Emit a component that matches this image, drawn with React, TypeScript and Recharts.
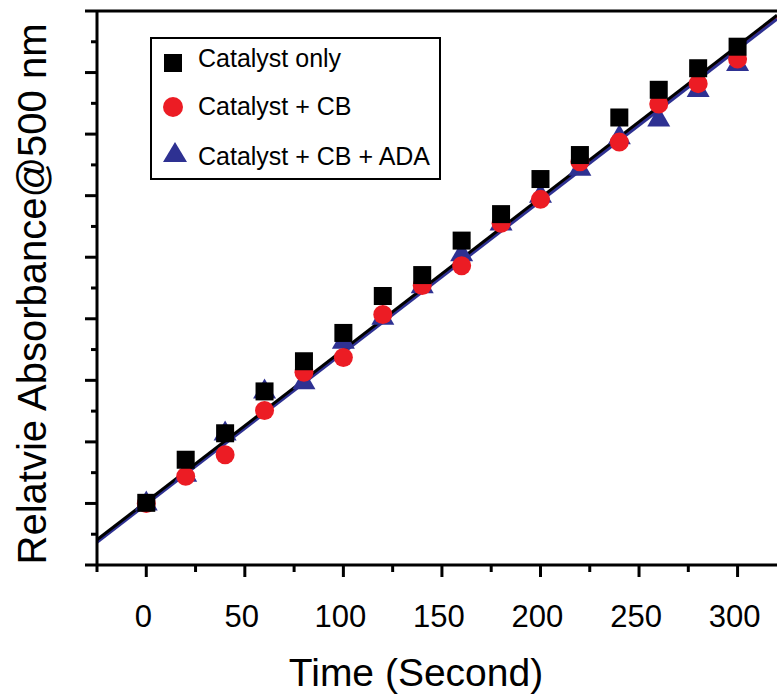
import { ComposedChart, Scatter, Line, XAxis, YAxis, ReferenceLine, Legend } from 'recharts';

// time points (s)
const times = [0, 20, 40, 60, 80, 100, 120, 140, 160, 180, 200, 220, 240, 260, 280, 300];

// relative absorbance
const catalystOnly = [1.01, 1.71, 2.14, 2.82, 3.31, 3.77, 4.37, 4.71, 5.27, 5.7, 6.27, 6.66, 7.27, 7.72, 8.07, 8.42];
const catalystCB = [1.0, 1.44, 1.79, 2.51, 3.13, 3.37, 4.07, 4.54, 4.86, 5.55, 5.94, 6.55, 6.87, 7.49, 7.82, 8.22];
const catalystCBADA = [1.03, 1.5, 2.17, 2.85, 3.0, 3.66, 4.05, 4.56, 5.08, 5.58, 6.03, 6.47, 6.98, 7.27, 7.75, 8.17];

// linear fit end points
const fitX = [-25, 320];
const fitOnly = [0.41, 8.93];
const fitCB = [0.39, 8.9];
const fitCBADA = [0.37, 8.87];

const xTicks = [-25, 0, 25, 50, 75, 100, 125, 150, 175, 200, 225, 250, 275, 300];
const yTicks = [0, 0.5, 1, 1.5, 2, 2.5, 3, 3.5, 4, 4.5, 5, 5.5, 6, 6.5, 7, 7.5, 8, 8.5, 9];

const legendNames = ['Catalyst only', 'Catalyst + CB', 'Catalyst + CB + ADA'];

const RED = '#ec1c24';
const BLUE = '#2e3192';
const FONT = "'Liberation Sans', Arial, sans-serif";

const toPoints = (xs: number[], ys: number[]) => xs.map((x, i) => ({ x, y: ys[i] }));

const onlyPts = toPoints(times, catalystOnly);
const cbPts = toPoints(times, catalystCB);
const adaPts = toPoints(times, catalystCBADA);
const fitOnlyPts = toPoints(fitX, fitOnly);
const fitCBPts = toPoints(fitX, fitCB);
const fitADAPts = toPoints(fitX, fitCBADA);

const Square = ({ cx, cy }: any) => <rect x={cx - 9} y={cy - 9} width={18} height={18} fill="#000" />;
const Circle = ({ cx, cy }: any) => <circle cx={cx} cy={cy} r={9.5} fill={RED} />;
const Triangle = ({ cx, cy }: any) => (
  <polygon points={`${cx},${cy - 11} ${cx - 11.5},${cy + 9} ${cx + 11.5},${cy + 9}`} fill={BLUE} />
);

const XTick = ({ x, y, payload }: any) => {
  const major = payload.value % 50 === 0;
  return (
    <g>
      <line x1={x} x2={x} y1={y} y2={y + (major ? 12 : 7)} stroke="#000" strokeWidth={3} />
      {major && (
        <text x={x - 3} y={y + 62} textAnchor="middle" fontSize={31} fontFamily={FONT} fill="#000">
          {payload.value}
        </text>
      )}
    </g>
  );
};

const YTick = ({ x, y, payload }: any) => {
  const major = Number.isInteger(payload.value);
  return <line x1={x - (major ? 12 : 6)} x2={x} y1={y} y2={y} stroke="#000" strokeWidth={3} />;
};

const XTitle = ({ viewBox }: any) => (
  <text x={viewBox.x + viewBox.width / 2 - 21} y={viewBox.y + 121} textAnchor="middle"
    fontSize={39} fontFamily={FONT} fill="#000">
    Time (Second)
  </text>
);

const YTitle = ({ viewBox }: any) => (
  <text transform={`translate(46, ${viewBox.y + viewBox.height / 2 + 6}) rotate(-90)`} textAnchor="middle"
    fontSize={40} fontFamily={FONT} fill="#000">
    Relatvie Absorbance@500 nm
  </text>
);

const LegendBox = () => {
  const rows = [
    { base: 30, mark: <rect x={14} y={17} width={18} height={18} fill="#000" /> },
    { base: 78, mark: <circle cx={23} cy={70} r={10} fill={RED} /> },
    { base: 128, mark: <polygon points="25,105 13,125 37,125" fill={BLUE} /> },
  ];
  return (
    <svg width={291} height={143} style={{ display: 'block' }}>
      <rect x={1} y={1} width={289} height={141} fill="#fff" stroke="#000" strokeWidth={2} />
      {rows.map((r, i) => (
        <g key={legendNames[i]}>
          {r.mark}
          <text x={48} y={r.base} fontSize={25} fontFamily={FONT} fill="#000">{legendNames[i]}</text>
        </g>
      ))}
    </svg>
  );
};

export default function App() {
  return (
    <div style={{ position: 'fixed', left: 0, top: 0, width: 777, height: 696, overflow: 'hidden', background: '#fff' }}>
      <ComposedChart width={777} height={696} margin={{ top: 11, right: 0, bottom: 0, left: 0 }}>
        <XAxis type="number" dataKey="x" domain={[-25, 320]} ticks={xTicks} interval={0} allowDataOverflow
          height={131} tickSize={0} tickMargin={0} tickLine={false}
          axisLine={{ stroke: '#000', strokeWidth: 3 }} tick={<XTick />} label={<XTitle />} />
        <YAxis type="number" dataKey="y" domain={[0, 9]} ticks={yTicks} interval={0} allowDataOverflow
          width={97} tickSize={0} tickMargin={0} tickLine={false}
          axisLine={{ stroke: '#000', strokeWidth: 3 }} tick={<YTick />} label={<YTitle />} />
        <ReferenceLine y={9} stroke="#000" strokeWidth={3} ifOverflow="visible" />
        <Legend layout="vertical" align="center" verticalAlign="middle" content={<LegendBox />}
          wrapperStyle={{ left: 150, top: 37, width: 291, height: 143 }} />
        <Scatter name="Catalyst + CB + ADA" data={adaPts} shape={<Triangle />} isAnimationActive={false} />
        <Scatter name="Catalyst + CB" data={cbPts} shape={<Circle />} isAnimationActive={false} />
        <Scatter name="Catalyst only" data={onlyPts} shape={<Square />} isAnimationActive={false} />
        <Line data={fitCBPts} dataKey="y" stroke={RED} strokeWidth={2} dot={false} isAnimationActive={false} legendType="none" />
        <Line data={fitADAPts} dataKey="y" stroke={BLUE} strokeWidth={3} dot={false} isAnimationActive={false} legendType="none" />
        <Line data={fitOnlyPts} dataKey="y" stroke="#000" strokeWidth={3} dot={false} isAnimationActive={false} legendType="none" />
      </ComposedChart>
    </div>
  );
}
